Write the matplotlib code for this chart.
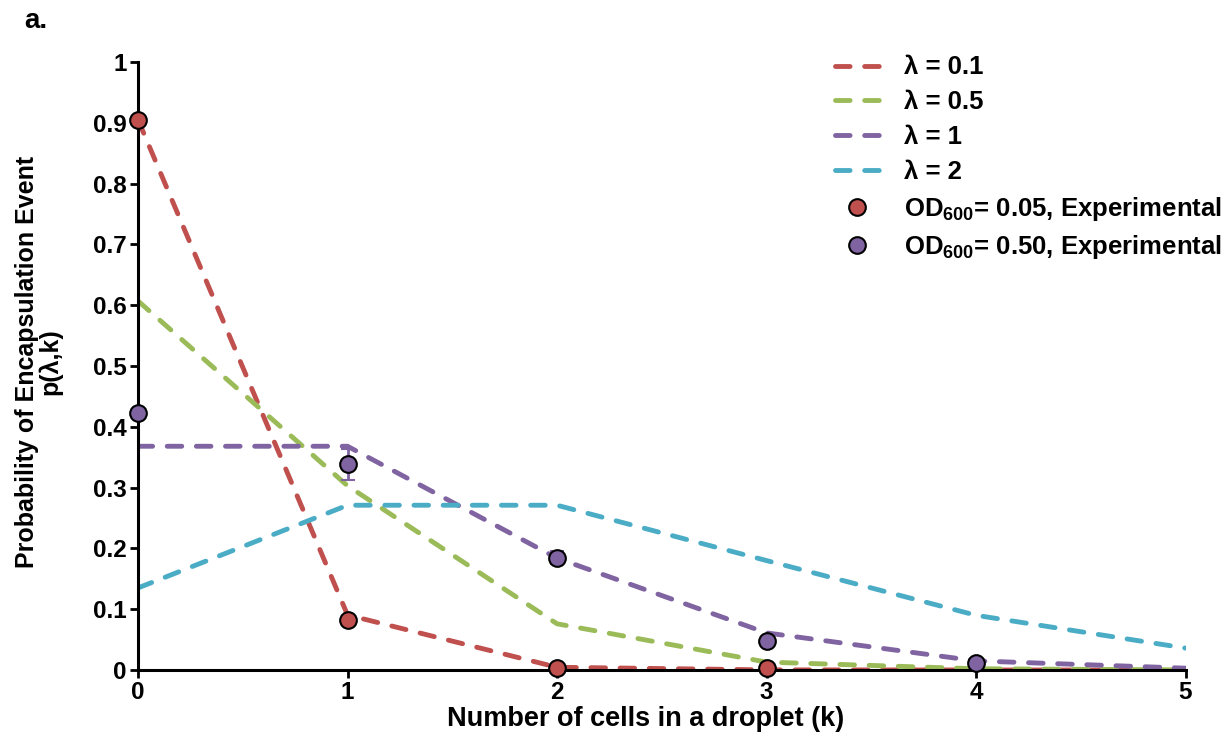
import numpy as np
import matplotlib
matplotlib.use("Agg")
import matplotlib.pyplot as plt
from matplotlib.lines import Line2D

plt.rcParams['font.family'] = ['Liberation Sans', 'DejaVu Sans']
plt.rcParams['font.weight'] = 'bold'
plt.rcParams['mathtext.fontset'] = 'custom'
plt.rcParams['mathtext.rm'] = 'Liberation Sans:bold'
plt.rcParams['mathtext.it'] = 'Liberation Sans:bold'
plt.rcParams['mathtext.bf'] = 'Liberation Sans:bold'

# cells per droplet
k = [0, 1, 2, 3, 4, 5]

# theoretical curves
lam_01 = [0.905, 0.0905, 0.0045, 0.0002, 0.0, 0.0]
lam_05 = [0.607, 0.303, 0.076, 0.013, 0.002, 0.0002]
lam_1 = [0.368, 0.368, 0.184, 0.061, 0.015, 0.003]
lam_2 = [0.135, 0.271, 0.271, 0.180, 0.090, 0.036]

# experimental points
k_od005 = [0, 1, 2, 3]
od005 = [0.905, 0.083, 0.003, 0.003]
od005_err = [0.003, 0.004, 0.002, 0.001]

k_od050 = [0, 1, 2, 3, 4]
od050 = [0.422, 0.338, 0.185, 0.048, 0.012]
od050_err = [0.004, 0.025, 0.011, 0.005, 0.003]

red = '#C0504D'
green = '#9BBB59'
purple = '#8064A2'
cyan = '#4BACC6'

fig = plt.figure(figsize=(12.28, 7.4), dpi=100)
ax = fig.add_axes([0.1124, 0.0946, 0.8530, 0.8216])

dash = dict(lw=3.5, linestyle=(0, (3.0, 3.0)), dash_capstyle='round')
ax.plot(k, lam_01, color=red, **dash)
ax.plot(k, lam_05, color=green, **dash)
ax.plot(k, lam_1, color=purple, **dash)
ax.plot(k, lam_2, color=cyan, **dash)

ax.errorbar(k_od005, od005, yerr=od005_err, fmt='o', color=red, ecolor=red,
            mec='black', mew=1.5, ms=12, capsize=5, elinewidth=2, capthick=2,
            zorder=5, clip_on=False)
ax.errorbar(k_od050, od050, yerr=od050_err, fmt='o', color=purple, ecolor=purple,
            mec='black', mew=1.5, ms=12, capsize=5, elinewidth=2, capthick=2,
            zorder=5, clip_on=False)

ax.set_xlim(0, 5)
ax.set_ylim(0, 1)
ax.set_xticks(k)
ax.set_yticks(np.arange(0, 1.01, 0.1))
ax.set_yticklabels(['0', '0.1', '0.2', '0.3', '0.4', '0.5', '0.6', '0.7', '0.8', '0.9', '1'])
for s in ['top', 'right']:
    ax.spines[s].set_visible(False)
for s in ['left', 'bottom']:
    ax.spines[s].set_linewidth(2.2)
ax.tick_params(width=2, length=6, labelsize=17.5, direction='out', pad=2)
for lbl in ax.get_xticklabels() + ax.get_yticklabels():
    lbl.set_fontweight('bold')

ax.set_xlabel('Number of cells in a droplet (k)', fontsize=19.5, fontweight='bold')
ax.xaxis.set_label_coords(0.485, -0.06)
ax.set_ylabel('Probability of Encapsulation Event\np(λ,k)', fontsize=18,
              fontweight='bold', linespacing=0.95)
ax.yaxis.set_label_coords(-0.072, 0.507)

handles = [
    Line2D([], [], color=red, **dash),
    Line2D([], [], color=green, **dash),
    Line2D([], [], color=purple, **dash),
    Line2D([], [], color=cyan, **dash),
    Line2D([], [], ls='none', marker='o', color=red, mec='black', mew=1.5, ms=12),
    Line2D([], [], ls='none', marker='o', color=purple, mec='black', mew=1.5, ms=12),
]
labels = ['λ = 0.1', 'λ = 0.5', 'λ = 1', 'λ = 2',
          'OD$_{600}$= 0.05, Experimental', 'OD$_{600}$= 0.50, Experimental']
fig.legend(handles, labels, loc='upper left', bbox_to_anchor=(835 / 1228, 0.925),
           frameon=False, borderpad=0, borderaxespad=0,
           handlelength=1.7, handletextpad=1.0, labelspacing=0.42,
           prop={'weight': 'bold', 'size': 18.5})

fig.text(0.02, 0.972, 'a.', fontsize=20, fontweight='bold', va='center')

fig.savefig('out.png', dpi=100)
